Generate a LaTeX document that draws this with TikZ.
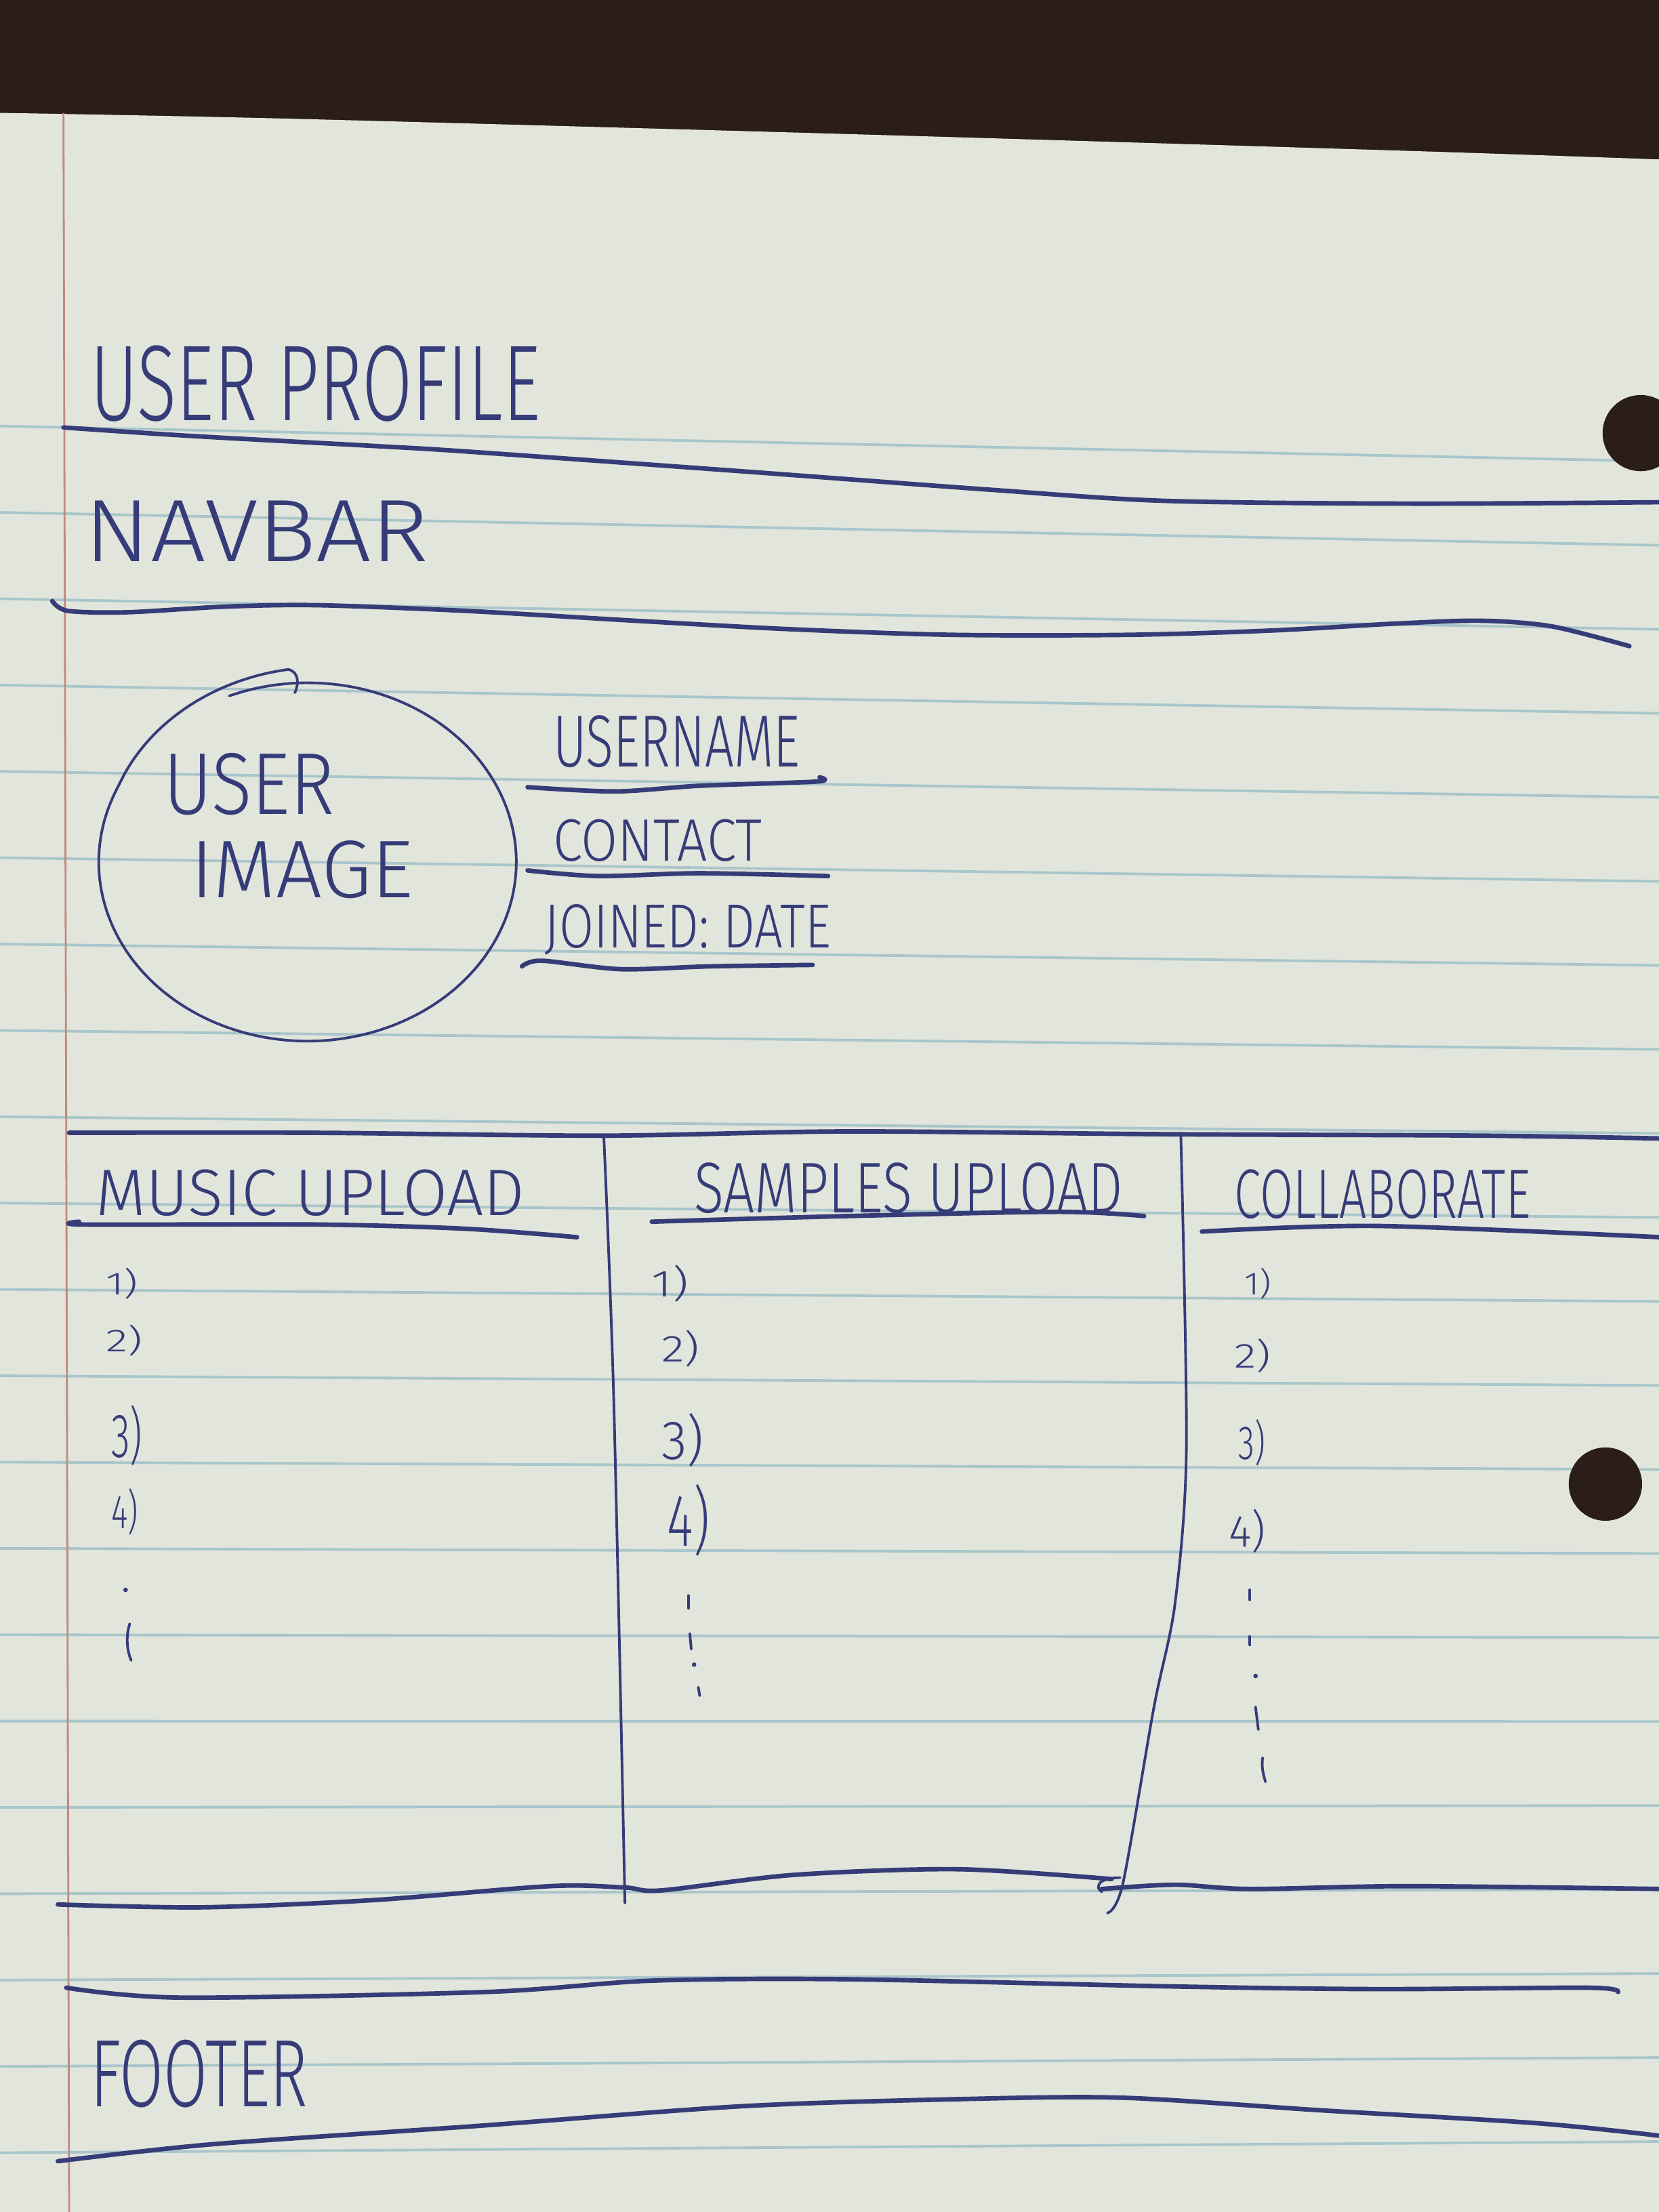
\documentclass[tikz,border=0pt]{standalone}
\usepackage{fontspec}
\setmainfont{Fira Sans}[UprightFont={* Light}]
\usepackage{graphicx}
\newlength\pxu
\setlength\pxu{0.020816cm}
% handwritten label squeezed into a w x h box (units of \pxu)
\newcommand\hand[3]{\resizebox*{#1\pxu}{#2\pxu}{#3}}
\definecolor{desk}{HTML}{2B1D19}
\definecolor{paper}{HTML}{E2E5DC}
\definecolor{rulec}{HTML}{A9C6CB}
\definecolor{marginc}{HTML}{C08A80}
\definecolor{inkc}{HTML}{363C78}
\begin{document}
\begin{tikzpicture}[x=0.020816cm,y=-0.020816cm,
  ink/.style={draw=inkc,line width=1.9pt,line cap=round,line join=round},
  thin ink/.style={draw=inkc,line width=1.1pt,line cap=round,line join=round},
  rule/.style={draw=rulec,line width=1.1pt},
  hw/.style={anchor=north west,inner sep=0pt,outer sep=0pt,text=inkc}]
\useasboundingbox (0,0) rectangle (1176,1568);

% desk and sheet of paper
\fill[desk] (0,0) rectangle (1176,1568);
\fill[paper] plot[smooth] coordinates {(0,80) (200,84) (600,95) (1000,107) (1176,113)}
  -- (1176,1568) -- (0,1568) -- cycle;

% ruled lines and margin
\foreach \i in {0,...,20}{
  \pgfmathsetmacro\yl{302+61.2*\i}
  \pgfmathsetmacro\yr{\yl+25-1.647*\i}
  \draw[rule] (0,\yl) -- (1176,\yr);
}
\draw[draw=marginc,line width=0.8pt] (45,80) -- (49,1568);

% punched holes
\fill[desk] (1163,307) circle (27);
\fill[desk] (1138,1052) circle (26);

% page title and navbar
\node[hw] (title) at (64,245) {\hand{319}{54}{USER PROFILE}};
\draw[ink] plot[smooth] coordinates {(45,303) (135,309) (263,316) (330,320) (525,334) (700,347) (825,355) (1000,357) (1176,356)};
\node[hw] (nav) at (60,355) {\hand{244}{43}{NAVBAR}};
\draw[ink] plot[smooth] coordinates {(37,426) (48,433) (90,434) (160,430) (225,429) (330,433) (450,440) (560,446) (675,450) (800,450) (900,447) (990,442) (1050,440) (1100,444) (1155,458)};

% user image: one loop drawn round, overlapping at the top, ending in a hook
\draw[thin ink] plot[smooth,domain=112:-265,samples=90,variable=\a]
  ({218+(148+max(0,(-205-\a)/6))*cos(\a)},{611-(127+max(0,(-205-\a)/6))*sin(\a)})
  .. controls (212,476) and (212,485) .. (209,491);
\node[hw] (img1) at (116,534) {\hand{121}{44}{USER}};
\node[hw] (img2) at (135,596) {\hand{158}{41}{IMAGE}};

% user details
\node[hw] (uname) at (392,507) {\hand{175}{37}{USERNAME}};
\draw[ink] plot[smooth] coordinates {(374,558) (436,561) (496,557) (579,554) (581,551)};
\node[hw] (contact) at (392,581) {\hand{148}{30}{CONTACT}};
\draw[ink] plot[smooth] coordinates {(374,617) (424,621) (496,619) (587,621)};
\node[hw] (joined) at (386,641) {\hand{203}{36}{JOINED: DATE}};
\draw[ink] plot[smooth] coordinates {(370,685) (384,681) (440,687) (503,685) (576,684)};

% three-column section
\draw[ink] plot[smooth] coordinates {(49,803) (225,803) (428,805) (601,802) (826,804) (1051,805) (1176,807)};
\draw[thin ink] plot[smooth] coordinates {(428,805) (435,990) (443,1349)};
\draw[thin ink] plot[smooth] coordinates {(837,803) (841,1026) (833,1136) (818,1210) (796,1335) (785,1356)};
\draw[thin ink] (794,1331) .. controls (778,1331) and (776,1338) .. (781,1341);

\node[hw] (music) at (68,829) {\hand{304}{33}{MUSIC UPLOAD}};
\draw[ink] plot[smooth] coordinates {(56,866) (60,868) (225,868) (330,871) (409,877)};
\node[hw] (samples) at (492,824) {\hand{304}{36}{SAMPLES UPLOAD}};
\draw[ink] plot[smooth] coordinates {(462,866) (601,862) (751,859) (811,862)};
\node[hw] (collab) at (875,829) {\hand{210}{35}{COLLABORATE}};
\draw[ink] plot[smooth] coordinates {(852,873) (976,869) (1177,877)};

% numbered entries
\node[hw] (m1) at (75,899) {\hand{23}{22}{1)}};
\node[hw] (m2) at (75,939) {\hand{26}{22}{2)}};
\node[hw] (m3) at (79,996) {\hand{22}{43}{3)}};
\node[hw] (m4) at (79,1055) {\hand{19}{33}{4)}};
\node[hw] (s1) at (462,897) {\hand{26}{26}{1)}};
\node[hw] (s2) at (469,943) {\hand{27}{26}{2)}};
\node[hw] (s3) at (469,1002) {\hand{30}{38}{3)}};
\node[hw] (s4) at (473,1052) {\hand{30}{51}{4)}};
\node[hw] (c1) at (882,899) {\hand{19}{22}{1)}};
\node[hw] (c2) at (875,949) {\hand{26}{24}{2)}};
\node[hw] (c3) at (878,1006) {\hand{19}{33}{3)}};
\node[hw] (c4) at (871,1070) {\hand{26}{31}{4)}};

% continuation marks
\fill[inkc] (89,1127) circle (1.6);
\draw[thin ink] (92,1151) .. controls (89,1160) and (90,1170) .. (93,1177);
\draw[thin ink] (488,1131) -- (488,1140);
\draw[thin ink] (489,1158) -- (490,1169);
\fill[inkc] (492,1180) circle (1.6);
\draw[thin ink] (495,1196) -- (496,1202);
\draw[thin ink] (886,1127) -- (886,1134);
\draw[thin ink] (886,1160) -- (886,1166);
\fill[inkc] (890,1188) circle (1.6);
\draw[thin ink] (890,1210) -- (892,1226);
\draw[thin ink] (895,1246) .. controls (894,1254) and (896,1259) .. (897,1263);

% bottom of the columns
\draw[ink] plot[smooth] coordinates {(41,1350) (143,1352) (263,1347) (390,1337) (443,1338) (469,1340) (563,1329) (679,1325) (788,1332)};
\draw[ink] plot[smooth] coordinates {(781,1339) (833,1336) (886,1339) (998,1337) (1177,1339)};

% footer
\draw[ink] plot[smooth] coordinates {(47,1409) (128,1416) (345,1412) (462,1404) (601,1403) (826,1408) (976,1410) (1126,1409) (1147,1412)};
\node[hw] (footer) at (64,1446) {\hand{154}{48}{FOOTER}};
\draw[ink] plot[smooth] coordinates {(41,1532) (150,1520) (338,1507) (526,1493) (679,1488) (796,1487) (938,1496) (1089,1505) (1177,1514)};
\end{tikzpicture}
\end{document}
